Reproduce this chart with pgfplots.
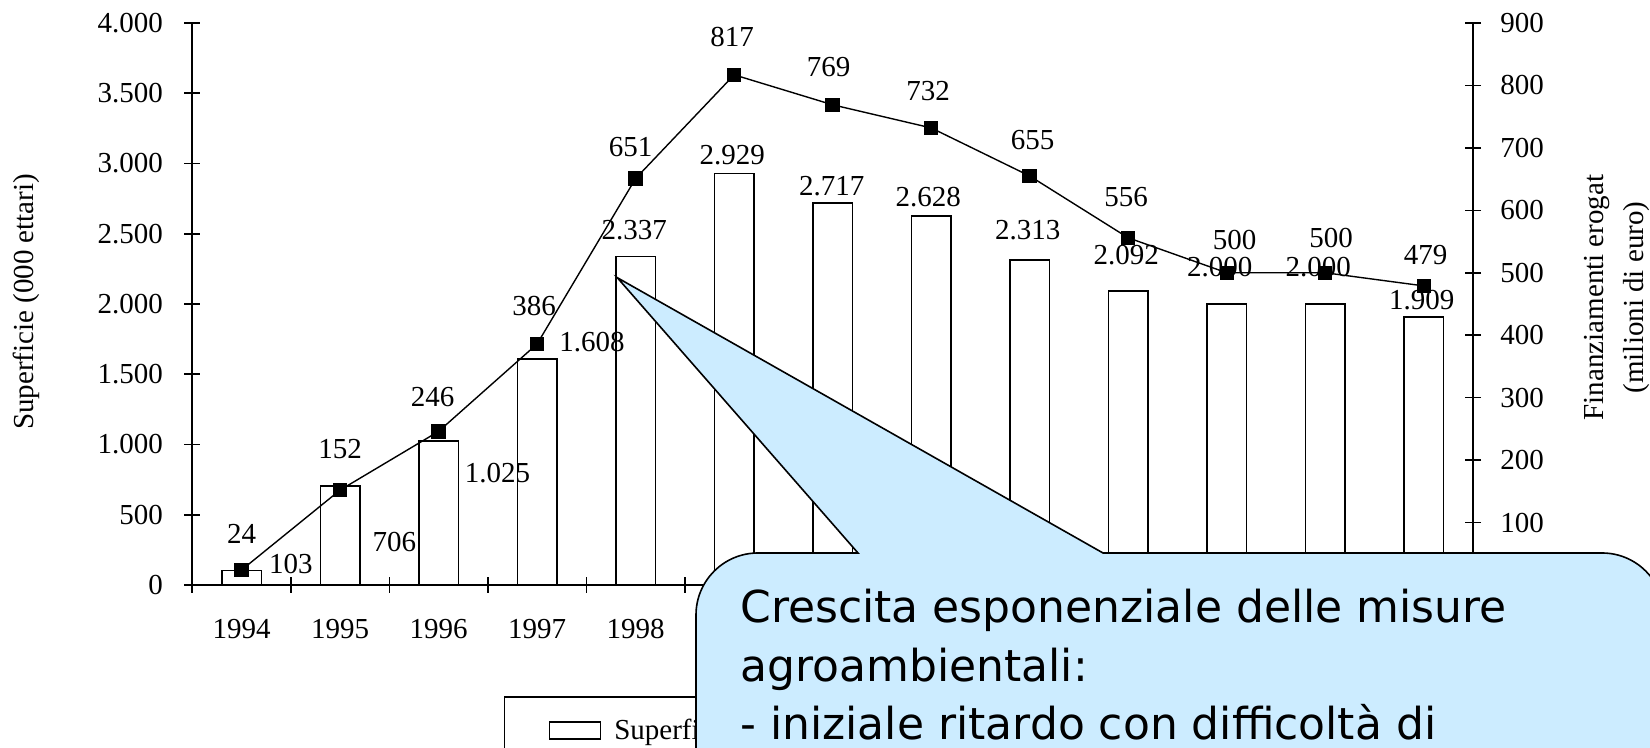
\documentclass[border=0pt]{standalone}
\usepackage{fontspec}
\setmainfont{Liberation Serif}
\newfontfamily\comic{DejaVu Sans}
\usepackage{pgfplots}
\pgfplotsset{compat=1.18}
\definecolor{callout}{RGB}{204,236,255}
\pgfplotsset{barlegend/.style={legend image code/.code={\draw[##1] (0pt,-4.25pt) rectangle (25.5pt,4.25pt); \path (30pt,0pt);}}}

\begin{document}
\begin{tikzpicture}[font=\fontsize{14.5}{17}\selectfont]
\useasboundingbox (0pt,0pt) rectangle (825pt,374pt);
\clip (0pt,0pt) rectangle (825pt,374pt);

\pgfplotsset{
 base/.style={
  scale only axis, width=640.35pt, height=281pt,
  at={(96.15pt,81.5pt)}, anchor=south west,
  xmin=-0.5, xmax=12.5,
  tick align=center,
  major tick length=8pt,
  axis line style={-, line width=0.8pt},
  every tick/.style={black, line width=0.8pt},
  /pgf/number format/assume math mode=true,
  ticklabel style={font=\fontsize{14.5}{17}\selectfont},
  scaled y ticks=false,
 }
}

\begin{axis}[base,
  axis y line*=left, axis x line*=bottom,
  ymin=0, ymax=4000, ytick={0,500,...,4000},
  /pgf/number format/1000 sep={.},
  yticklabel style={xshift=-7.2pt},
  xtick={-0.5,0.5,...,12.5},
  xticklabels={1994,1995,1996,1997,1998,1999,2000,2001,2002,2003,2004,2005,2006,{}},
  xticklabel style={xshift=24.63pt, yshift=-9.7pt},
  ylabel={Superficie (000 ettari)},
  ylabel style={at={(axis description cs:-0.1298,0.5036)}, anchor=center, font=\fontsize{14.5}{17}\selectfont},
  legend columns=2,
  legend style={at={(0.2433,-0.1975)}, anchor=north west, draw=black, line width=0.8pt,
    font=\fontsize{14.5}{17}\selectfont, inner xsep=22pt, inner ysep=9pt,
    /tikz/every even column/.style={column sep=20pt}},
]
\addplot[ybar, bar width=19.75pt, fill=white, draw=black, line width=0.8pt, barlegend]
  coordinates {(0,103) (1,706) (2,1025) (3,1608) (4,2337) (5,2929) (6,2717)
               (7,2628) (8,2313) (9,2092) (10,2000) (11,2000) (12,1909)};
\addlegendentry{Superficie (000 ettari)}
\addlegendimage{black, line width=0.7pt, mark=square*, mark size=3.25pt}
\addlegendentry{Finanziamenti erogati (milioni di euro)}

\node at (axis cs:0.501,146) {103};
\node at (axis cs:1.550,306) {706};
\node at (axis cs:2.598,799) {1.025};
\node at (axis cs:3.558,1730) {1.608};
\node at (axis cs:3.985,2527) {2.337};
\node at (axis cs:4.98,3058) {2.929};
\node at (axis cs:5.99,2840) {2.717};
\node at (axis cs:6.97,2764) {2.628};
\node at (axis cs:7.98,2527) {2.313};
\node at (axis cs:8.98,2349) {2.092};
\node at (axis cs:9.93,2265) {2.000};
\node at (axis cs:10.93,2265) {2.000};
\node at (axis cs:11.98,2028) {1.909};
\end{axis}

\begin{axis}[base,
  axis y line*=right, axis x line=none,
  ymin=0, ymax=900, ytick={0,100,...,900},
  yticklabel style={xshift=6.2pt},
  ylabel={Finanziamenti erogat\\(milioni di euro)},
  ylabel style={at={(axis description cs:1.1122,0.5116)}, anchor=center, align=center,
    font=\fontsize{14.5}{20}\selectfont},
]
\addplot[black, line width=0.7pt, mark=square*, mark size=3.25pt, mark options={fill=black}]
  coordinates {(0,24) (1,152) (2,246) (3,386) (4,651) (5,817) (6,769)
               (7,732) (8,655) (9,556) (10,500) (11,500) (12,479)};
\node at (axis cs:0,82.6) {24};
\node at (axis cs:1,218) {152};
\node at (axis cs:1.94,300.6) {246};
\node at (axis cs:2.97,447.4) {386};
\node at (axis cs:3.95,701.4) {651};
\node at (axis cs:4.98,877.6) {817};
\node at (axis cs:5.96,830) {769};
\node at (axis cs:6.97,791.6) {732};
\node at (axis cs:8.03,712.6) {655};
\node at (axis cs:8.98,621.8) {556};
\node at (axis cs:10.08,552.5) {500};
\node at (axis cs:11.06,555.7) {500};
\node at (axis cs:12.02,528.5) {479};
\end{axis}

\filldraw[fill=callout, draw=black, line width=0.8pt]
  (348pt,-10pt) -- (348pt,66.5pt) arc[start angle=180, end angle=90, radius=31pt]
  -- (429pt,97.5pt) -- (308.65pt,235.15pt) -- (551.5pt,97.5pt)
  -- (801pt,97.5pt) arc[start angle=90, end angle=0, radius=31pt]
  -- (832pt,-10pt) -- cycle;
\begin{scope}[every node/.style={anchor=base west, inner sep=0pt, font=\comic\fontsize{22}{26}\selectfont}]
\node at (370pt,62.5pt) {Crescita esponenziale delle misure};
\node at (370pt,33pt) {agroambientali:};
\node at (370pt,4pt) {- iniziale ritardo con difficoltà di};
\end{scope}
\end{tikzpicture}
\end{document}
